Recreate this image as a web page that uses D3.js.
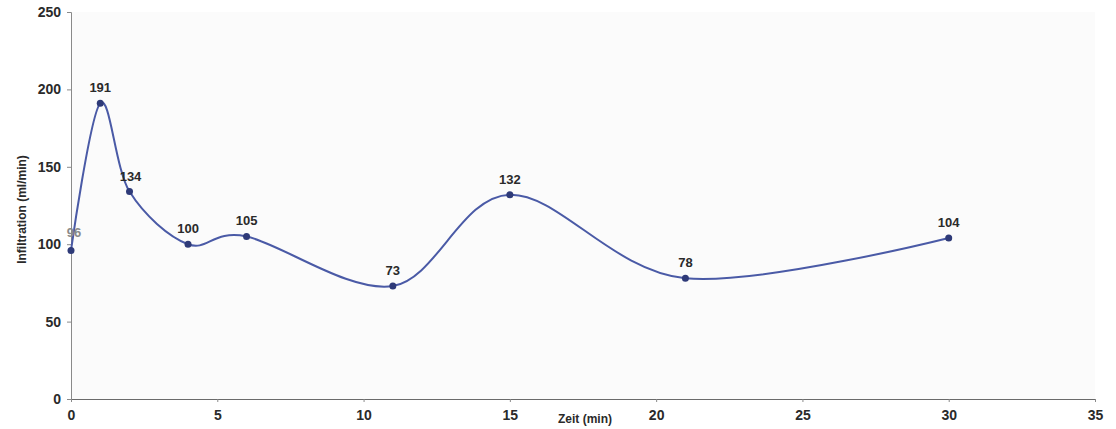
<!DOCTYPE html>
<html>
<head>
<meta charset="utf-8">
<script src="https://cdn.jsdelivr.net/npm/d3@7"></script>
<style>
  html, body { margin: 0; padding: 0; background: #fff; }
  svg text { font-family: "Liberation Sans", Arial, sans-serif; font-weight: bold; fill: #2a2a2a; }
</style>
</head>
<body>
<svg id="chart" width="1116" height="429"></svg>
<script>
// Infiltration measurements over time
const times = [0, 1, 2, 4, 6, 11, 15, 21, 30];
const infiltration = [96, 191, 134, 100, 105, 73, 132, 78, 104];
const xTicks = [0, 5, 10, 15, 20, 25, 30, 35];
const yTicks = [0, 50, 100, 150, 200, 250];

const svg = d3.select("#chart");
const W = 1116, H = 429;
const margin = { left: 71, right: 21, top: 12, bottom: 30 };

const x = d3.scaleLinear().domain([0, 35]).range([margin.left, W - margin.right]);
const y = d3.scaleLinear().domain([0, 250]).range([H - margin.bottom, margin.top]);

// plot background
svg.append("rect")
  .attr("x", x(0)).attr("y", y(250))
  .attr("width", x(35) - x(0)).attr("height", y(0) - y(250))
  .attr("fill", "#fbfbfb");

// y axis
const yAxis = svg.append("g")
  .attr("transform", `translate(${x(0)},0)`)
  .call(d3.axisLeft(y).tickValues(yTicks).tickSize(4).tickPadding(6));
yAxis.select(".domain").attr("stroke", "#8a8a8a");
yAxis.selectAll(".tick line").attr("stroke", "#8a8a8a");
yAxis.selectAll(".tick text").attr("font-size", 14).attr("fill", "#2a2a2a");

// x axis
const xAxis = svg.append("g")
  .attr("transform", `translate(0,${y(0)})`)
  .call(d3.axisBottom(x).tickValues(xTicks).tickSize(3).tickPadding(8));
xAxis.select(".domain").attr("stroke", "#6a6a6a");
xAxis.selectAll(".tick line").attr("stroke", "#8a8a8a");
xAxis.selectAll(".tick text").attr("font-size", 14).attr("fill", "#2a2a2a");

// axis titles
svg.append("text")
  .attr("x", 585).attr("y", 423)
  .attr("text-anchor", "middle")
  .attr("font-size", 12)
  .text("Zeit (min)");

svg.append("text")
  .attr("transform", `translate(26,${(y(0) + y(250)) / 2 + 4}) rotate(-90)`)
  .attr("text-anchor", "middle")
  .attr("font-size", 12)
  .text("Infiltration (ml/min)");

const data = times.map((t, i) => ({ t, v: infiltration[i] }));

// smoothed series line
const line = d3.line()
  .x(d => x(d.t))
  .y(d => y(d.v))
  .curve(d3.curveCardinal.tension(0));

svg.append("path")
  .datum(data)
  .attr("d", line)
  .attr("fill", "none")
  .attr("stroke", "#4a5aa6")
  .attr("stroke-width", 2);

// markers
svg.selectAll("circle.pt")
  .data(data)
  .enter().append("circle")
  .attr("class", "pt")
  .attr("cx", d => x(d.t))
  .attr("cy", d => y(d.v))
  .attr("r", 3.5)
  .attr("fill", "#2e3a78");

// value labels
svg.selectAll("text.lbl")
  .data(data)
  .enter().append("text")
  .attr("class", "lbl")
  .attr("x", d => x(d.t) + (d.t === 0 ? 3 : d.t === 2 ? 1 : 0))
  .attr("y", d => y(d.v) - (d.t === 0 ? 13 : 11))
  .attr("text-anchor", "middle")
  .attr("font-size", 13)
  .style("fill", d => d.t === 0 ? "#8a8a8a" : "#2a2a2a")
  .text(d => d.v);
</script>
</body>
</html>
